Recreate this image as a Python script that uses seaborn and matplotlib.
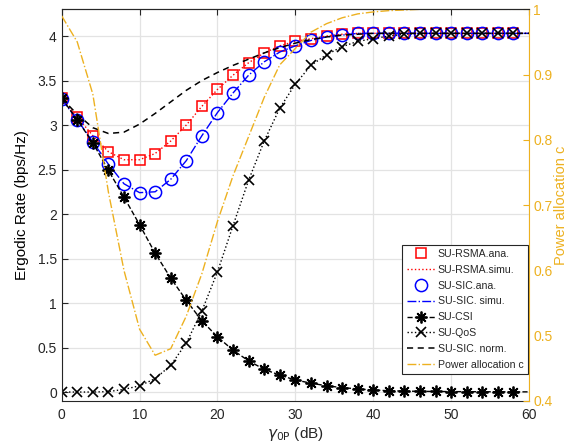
import numpy as np
import pandas as pd
import matplotlib
matplotlib.use("Agg")
import matplotlib.pyplot as plt
import seaborn as sns
from matplotlib.ticker import FuncFormatter

# ---------------- data ----------------
gamma_db = list(range(0, 61, 2))

rsma = [3.30, 3.09, 2.88, 2.70, 2.61, 2.61, 2.68, 2.82, 3.00, 3.21, 3.40, 3.56,
        3.70, 3.81, 3.89, 3.94, 3.97, 4.00, 4.02, 4.03] + [4.03] * 11
sic = [3.29, 3.06, 2.81, 2.56, 2.34, 2.24, 2.25, 2.39, 2.60, 2.88, 3.14, 3.36,
       3.56, 3.71, 3.82, 3.89, 3.95, 3.99, 4.01, 4.03] + [4.03] * 11
csi = [3.30, 3.06, 2.80, 2.49, 2.19, 1.88, 1.56, 1.28, 1.03, 0.80, 0.62, 0.47,
       0.35, 0.255, 0.19, 0.135, 0.10, 0.07, 0.05, 0.035, 0.022, 0.015, 0.01,
       0.008, 0.006, 0.005, 0.004, 0.003, 0.003, 0.002, 0.002]
qos = [0.0, 0.0, 0.0, 0.005, 0.03, 0.07, 0.15, 0.30, 0.55, 0.91, 1.35, 1.87,
       2.38, 2.82, 3.19, 3.46, 3.67, 3.79, 3.88, 3.94, 3.97, 4.00, 4.02, 4.03] + [4.03] * 7
sic_norm = [3.30, 3.12, 2.97, 2.905, 2.92, 3.01, 3.13, 3.26, 3.39, 3.50, 3.59,
            3.67, 3.74, 3.81, 3.87, 3.92, 3.96, 3.99, 4.01, 4.02, 4.03] + [4.03] * 10
power_c = [0.99, 0.95, 0.87, 0.72, 0.60, 0.51, 0.47, 0.48, 0.53, 0.595, 0.675,
           0.745, 0.805, 0.865, 0.915, 0.94, 0.965, 0.978, 0.987, 0.993, 0.996,
           0.998, 0.999] + [1.0] * 8

x_ticks = [0, 10, 20, 30, 40, 50, 60]
left_ticks = [0, 0.5, 1, 1.5, 2, 2.5, 3, 3.5, 4]
right_ticks = [0.4, 0.5, 0.6, 0.7, 0.8, 0.9, 1.0]

labels = ["SU-RSMA.ana.", "SU-RSMA.simu.", "SU-SIC.ana.", "SU-SIC. simu.",
          "SU-CSI", "SU-QoS", "SU-SIC. norm.", "Power allocation c"]

# ---------------- style ----------------
sns.set_style("white")
plt.rcParams['font.family'] = ['Liberation Sans', 'DejaVu Sans']
plt.rcParams['mathtext.fontset'] = 'dejavusans'

ORANGE = "#EDB120"
DARK = "#262626"

fig = plt.figure(figsize=(5.71, 4.44), dpi=100)
ax = fig.add_axes([0.108, 0.097, 0.8185, 0.882])
ax2 = ax.twinx()

mk_ana = slice(0, 30)

sns.lineplot(x=gamma_db, y=rsma, ax=ax, color="red", linestyle="none",
             marker="s", markersize=7.4, markerfacecolor="none",
             markeredgecolor="red", markeredgewidth=1.1, markevery=mk_ana,
             label=labels[0])
sns.lineplot(x=gamma_db, y=rsma, ax=ax, color="red", linestyle=":",
             linewidth=1.0, label=labels[1])
sns.lineplot(x=gamma_db, y=sic, ax=ax, color="blue", linestyle="none",
             marker="o", markersize=8.8, markerfacecolor="none",
             markeredgecolor="blue", markeredgewidth=1.1, markevery=mk_ana,
             label=labels[2])
sns.lineplot(x=gamma_db, y=sic, ax=ax, color="blue", linestyle="-.",
             linewidth=1.0, label=labels[3])
sns.lineplot(x=gamma_db, y=csi, ax=ax, color="black", linestyle="--",
             linewidth=1.0, marker=(8, 2, 0), markersize=8.5,
             markeredgecolor="black", markeredgewidth=1.3, markevery=mk_ana,
             label=labels[4])
sns.lineplot(x=gamma_db, y=qos, ax=ax, color="black", linestyle=":",
             linewidth=1.0, marker="x", markersize=7, markeredgecolor="black",
             markeredgewidth=1.2, markevery=mk_ana, label=labels[5])
sns.lineplot(x=gamma_db, y=sic_norm, ax=ax, color="black", linestyle=(0, (4, 3)),
             linewidth=1.1, label=labels[6])
sns.lineplot(x=gamma_db, y=power_c, ax=ax2, color=ORANGE, linestyle="-.",
             linewidth=1.0, label=labels[7])

# ---------------- axes ----------------
ax.set_xlim(0, 60)
ax.set_ylim(-0.1, 4.3)
ax2.set_ylim(0.4, 1.0)
ax.set_xticks(x_ticks)
ax.set_yticks(left_ticks)
ax2.set_yticks(right_ticks)
fmt = FuncFormatter(lambda v, p: "%g" % v)
ax.yaxis.set_major_formatter(fmt)
ax2.yaxis.set_major_formatter(fmt)

ax.grid(True, color="#e3e3e3", linewidth=0.9)
ax.set_axisbelow(True)

ax.tick_params(axis="both", direction="in", labelsize=10, colors=DARK,
               length=4, width=0.8, top=True)
ax.tick_params(axis="x", pad=5)
ax2.tick_params(axis="y", direction="in", labelsize=10, colors=ORANGE,
                length=4, width=0.8, pad=3)

for s in ["left", "bottom", "top"]:
    ax.spines[s].set_color(DARK)
    ax.spines[s].set_linewidth(0.8)
ax2.spines["right"].set_color(ORANGE)
ax2.spines["right"].set_linewidth(0.8)
ax2.spines["top"].set_color(DARK)
ax2.spines["left"].set_visible(False)
ax2.spines["bottom"].set_visible(False)
ax.spines["right"].set_visible(False)

ax.set_xlabel(r"$\gamma_{\mathrm{0P}}$ (dB)", fontsize=11, color=DARK, labelpad=2)
ax.set_ylabel("Ergodic Rate (bps/Hz)", fontsize=11, color="black", labelpad=6)
ax2.set_ylabel("Power allocation c", fontsize=10.5, color=ORANGE, labelpad=1)

h1, l1 = ax.get_legend_handles_labels()
h2, l2 = ax2.get_legend_handles_labels()
if ax.get_legend():
    ax.get_legend().remove()
if ax2.get_legend():
    ax2.get_legend().remove()
handles = h1 + h2
leg = ax2.legend(handles, labels, loc="lower right",
                 bbox_to_anchor=(0.997, 0.069), borderaxespad=0,
                 fontsize=7.6, frameon=True, fancybox=False, framealpha=1,
                 edgecolor=DARK, handlelength=2.8, handletextpad=0.15,
                 labelspacing=0.55, borderpad=0.4)
leg.get_frame().set_linewidth(0.8)
for t in leg.get_texts():
    t.set_color(DARK)

fig.savefig("out.png", dpi=100)
